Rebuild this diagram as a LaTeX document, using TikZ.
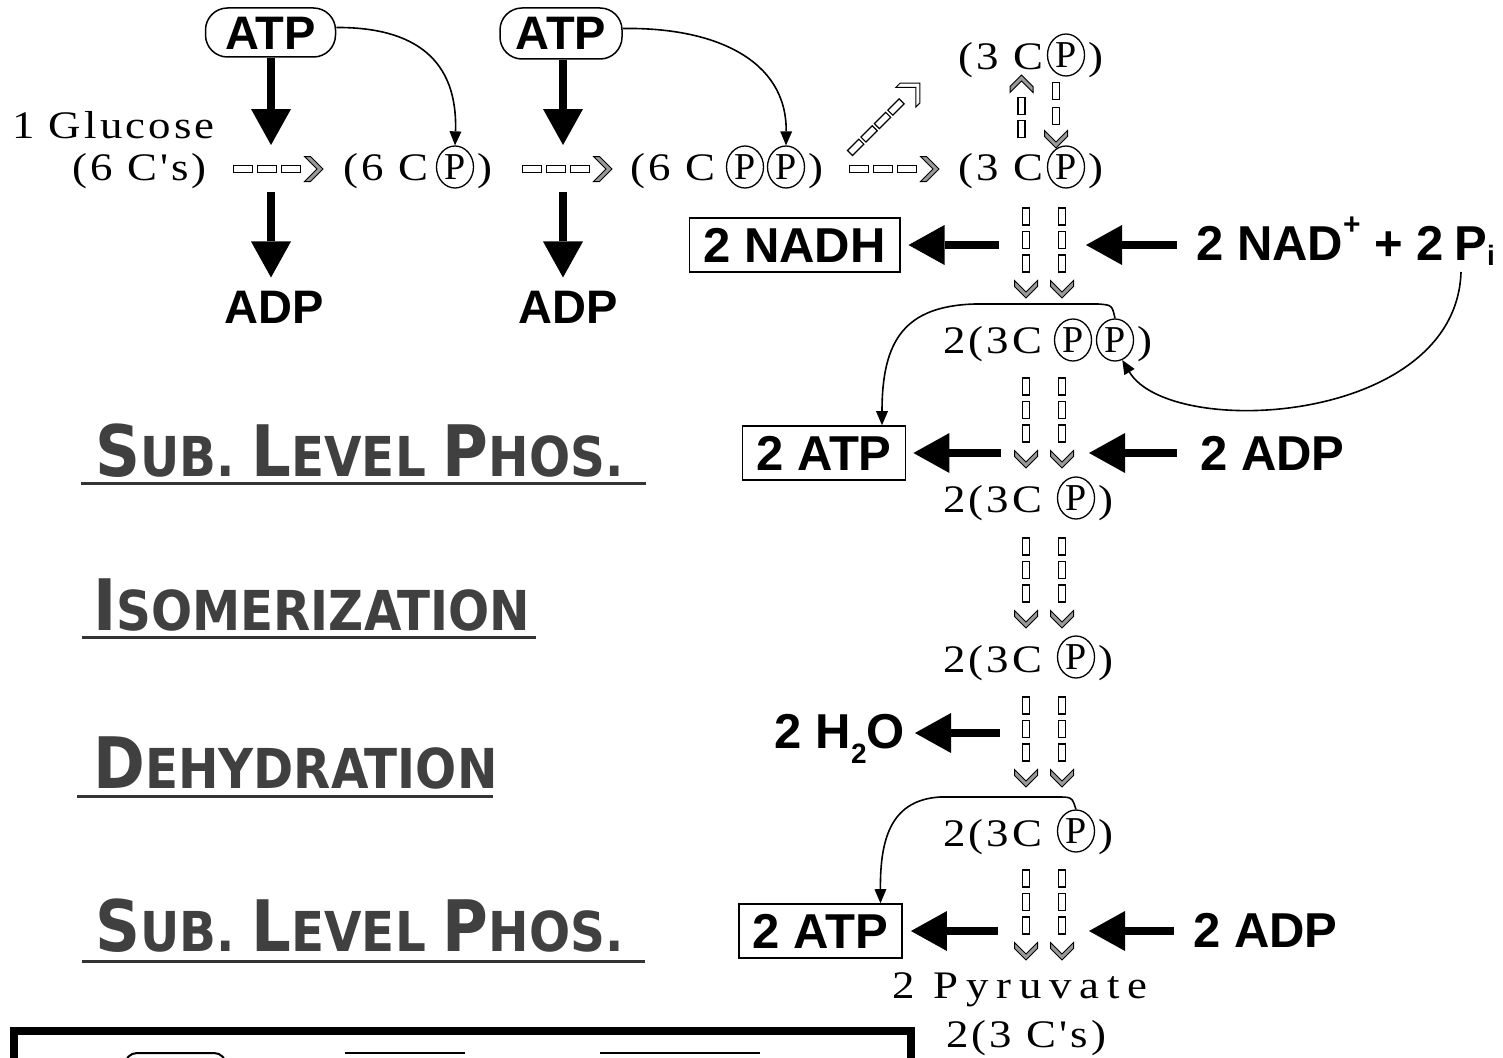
\documentclass[tikz,border=0pt]{standalone}
\usepackage{fontspec}
\usetikzlibrary{arrows.meta,shapes.geometric,decorations.markings}
\newfontfamily\lsans{Liberation Sans}
\newfontfamily\serf[FakeStretch=1.15,LetterSpace=8]{Liberation Serif}
\newfontfamily\serfP{Liberation Serif}
\newfontfamily\stripe[FakeStretch=0.88]{DejaVu Sans}
\newcommand\bigc[1]{{\fontsize{71}{75}\selectfont #1}}
\begin{document}
\begin{tikzpicture}[x=1pt,y=-1pt,
  ser/.style={font=\serf\fontsize{39}{44}\selectfont, inner sep=0pt, anchor=base west},
  pc/.style={ellipse, draw, line width=1.3pt, inner sep=-2pt, minimum width=37pt, minimum height=42pt, font=\serfP\fontsize{38}{40}\selectfont},
  bl/.style={font=\lsans\bfseries\fontsize{49}{54}\selectfont, inner sep=0pt},
  bt/.style={font=\lsans\bfseries\fontsize{47}{52}\selectfont, inner sep=0pt},
  box/.style={bl, draw, line width=1.6pt, inner xsep=14pt, inner ysep=9.5pt, text height=35pt, text depth=0pt},
  oval/.style={bt, draw, line width=1.5pt, rounded corners=22pt, text height=33pt, text depth=0pt},
  big/.style={line width=8pt, -{Triangle[line width=0pt,length=36pt,width=40pt]}},
  curv/.style={line width=1.6pt, -{Triangle[line width=0pt,length=14pt,width=12pt]}},
  stl/.style={font=\stripe\bfseries\fontsize{55}{60}\selectfont, text=black!75, inner sep=0pt, anchor=base west},
  uline/.style={line width=3pt, black!80},
  dsh/.style 2 args={postaction={decorate,decoration={markings,mark=at position #1 with {\draw[line width=1.2pt,fill=white] (-#2,-3.5pt) rectangle (#2,3.5pt);}}}},
  chv/.style 2 args={postaction={decorate,decoration={markings,mark=at position 0.9999 with {\filldraw[line width=1pt,fill=#1] (0pt,0pt) -- (-#2,#2) -- (-#2-6pt,#2) -- (-6pt,0pt) -- (-#2-6pt,-#2) -- (-#2,-#2) -- cycle;}}}},
  col/.style={dsh={8.5pt}{8.5pt}, dsh={32pt}{8.5pt}, dsh={55.5pt}{8.5pt}, chv={black!40}{11.5pt}},
  hrow/.style={dsh={10pt}{9.5pt}, dsh={34pt}{9.5pt}, dsh={58pt}{9.5pt}, chv={black!40}{12.5pt}}
]
\useasboundingbox (0,0) rectangle (1503,1057);
\fill[white] (0,0) rectangle (1503,1057);
\clip (0,0) rectangle (1503,1057);

% ---- top row ----
\node[oval, minimum width=130pt, minimum height=49pt] (atp1) at (270.5,32.5) {ATP};
\node[oval, minimum width=122pt, minimum height=51pt] (atp2) at (561,33.5) {ATP};
\node[bt, anchor=base] (adp1) at (274,323) {ADP};
\node[bt, anchor=base] (adp2) at (568,323) {ADP};

\node[ser] (glc) at (12,138) {1 Glucose};
\node[ser] (s1) at (72,180) {(6 C's)};
\node[ser] (s2a) at (343,180) {(6 C};
\node[pc] (s2p) at (455,167) {P};
\node[ser, xshift=3pt] (s2b) at (s2p.east |- s2a.base) {)};
\node[ser] (s3a) at (630,180) {(6 C};
\node[pc] (s3p) at (745,167) {P};
\node[pc] (s3q) at (786,167) {P};
\node[ser, xshift=3pt] (s3b) at (s3q.east |- s3a.base) {)};
\node[ser] (s4a) at (958,180) {(3 C};
\node[pc] (s4p) at (1066,167) {P};
\node[ser, xshift=3pt] (s4b) at (s4p.east |- s4a.base) {)};
\node[ser] (s5a) at (958,70) {(3 C};
\node[pc] (s5p) at (1066,55) {P};
\node[ser, xshift=3pt] (s5b) at (s5p.east |- s5a.base) {)};

\coordinate (a1) at (271,145);
\coordinate (b1) at (271,192);
\coordinate (a2) at (563,145);
\coordinate (b2) at (563,192);
\draw[big] (atp1.south -| a1) -- (a1);
\draw[big, shorten >=13pt] (b1) -- (b1 |- adp1.north);
\draw[big] (atp2.south -| a2) -- (a2);
\draw[big, shorten >=13pt] (b2) -- (b2 |- adp2.north);

\draw[curv] ([yshift=5pt]atp1.east) .. controls (415,27) and (458,60) .. (s2p.north);
\draw[curv] ([yshift=5pt]atp2.east) .. controls (715,27) and (787,60) .. (s3q.north);

\path[hrow] (233,169) -- (323,169);
\path[hrow] (522,169) -- (612,169);
\path[hrow] (849,169) -- (939,169);
\path[dsh={8pt}{8pt}, dsh={27pt}{8pt}, dsh={46pt}{8pt}, dsh={65pt}{8pt}, chv={white}{14pt}] (850,153) -- (920,83);
\path[dsh={11pt}{8.5pt}, dsh={34pt}{8.5pt}, chv={black!40}{11.5pt}] (1021.5,140) -- (1021.5,75);
\path[dsh={9pt}{8.5pt}, dsh={34pt}{8.5pt}, chv={black!40}{11.5pt}] (1056,82) -- (1056,148);

% ---- right column ----
\node[ser] (r1a) at (943,353) {2(3C};
\node[pc] (r1p) at (1073,340) {P};
\node[pc] (r1q) at (1115,340) {P};
\node[ser, xshift=3pt] (r1b) at (r1q.east |- r1a.base) {)};
\node[ser] (r2a) at (943,512) {2(3C};
\node[pc] (r2p) at (1076,498) {P};
\node[ser, xshift=3pt] (r2b) at (r2p.east |- r2a.base) {)};
\node[ser] (r3a) at (943,672) {2(3C};
\node[pc] (r3p) at (1076,657) {P};
\node[ser, xshift=3pt] (r3b) at (r3p.east |- r3a.base) {)};
\node[ser] (r4a) at (943,846) {2(3C};
\node[pc] (r4p) at (1076,831) {P};
\node[ser, xshift=3pt] (r4b) at (r4p.east |- r4a.base) {)};
\node[ser] (pyr) at (892,998) {\addfontfeatures{LetterSpace=20}2 Pyruvate};
\node[ser] (r5) at (946,1047) {2(3 C's)};

\foreach \yy in {208,378,538,697,870}{
  \path[col] (1026,\yy) -- ++(0,90);
  \path[col] (1062,\yy) -- ++(0,90);
}

\node[box] (nadh) at (794.5,245) {2 NADH};
\node[box] (atpA) at (824,453) {2 ATP};
\node[box] (atpB) at (820.5,931) {2 ATP};
\node[bl, anchor=base west] (nad) at (1196,260) {2 NAD\raisebox{26pt}{\fontsize{30}{30}\selectfont +} + 2\kern-3pt\ P\raisebox{-5pt}{\fontsize{28}{28}\selectfont i}};
\node[bl, anchor=base west] (adpR1) at (1200,470) {2 ADP};
\node[bl, anchor=base west] (adpR2) at (1193,947) {2 ADP};
\node[bl, anchor=base east] (h2o) at (905,748) {2 H\raisebox{-15pt}{\fontsize{28}{28}\selectfont 2}O};

\draw[big, shorten >=8pt] (999,245) -- (nadh.east);
\draw[big] (1177,245) -- (1086,245);
\draw[big, shorten >=7pt] (1001,453) -- (atpA.east);
\draw[big] (1177,453) -- (1089,453);
\draw[big] (1000,733) -- (915,733);
\draw[big, shorten >=8pt] (998,931) -- (atpB.east);
\draw[big] (1174,931) -- (1089,931);

\coordinate (pistart) at (1461,272);
\draw[curv] (pistart) .. controls (1456,425) and (1170,440) .. (r1q.-70);
\draw[curv] (r1q.north) .. controls (1112,305) .. (1098,304) -- (975,304) .. controls (905,306) and (882,340) .. ([xshift=58pt]atpA.north);
\draw[curv] (r4p.north) .. controls (1072,797) .. (1057,797) -- (940,797) .. controls (893,800) and (880,835) .. ([xshift=60pt]atpB.north);

% ---- left labels ----
\node[stl] (lab1) at (95,476) {\bigc{S}UB. \bigc{L}EVEL \bigc{P}HOS.};
\node[stl] (lab2) at (93,630) {\bigc{I}SOMERIZATION};
\node[stl] (lab3) at (93,788) {\bigc{D}EHYDRATION};
\node[stl] (lab4) at (95,951) {\bigc{S}UB. \bigc{L}EVEL \bigc{P}HOS.};
\draw[uline] (81,483) -- (646,483);
\draw[uline] (82,637) -- (536,637);
\draw[uline] (77,796) -- (493,796);
\draw[uline] (82,961) -- (645,961);

% ---- bottom box (cut off) ----
\draw[line width=8pt] (14,1075) -- (14,1031) -- (911,1031) -- (911,1075);
\draw[line width=2pt, rounded corners=12pt] (125,1080) -- (125,1053) -- (226,1053) -- (226,1080);
\draw[line width=2pt] (345,1053) -- (465,1053);
\draw[line width=2pt] (600,1053) -- (760,1053);
\end{tikzpicture}
\end{document}
